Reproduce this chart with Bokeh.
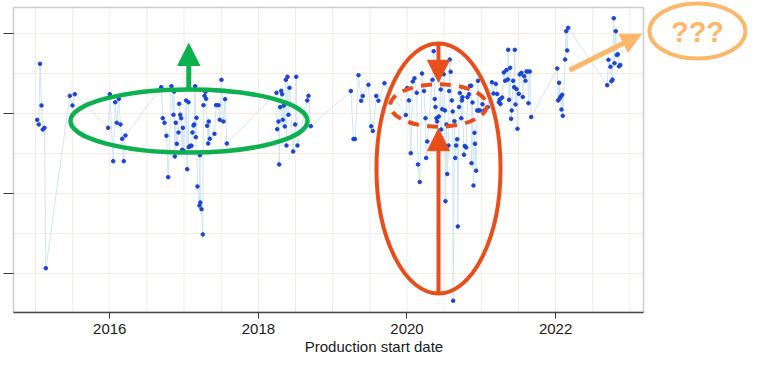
from bokeh.plotting import figure
from bokeh.models import Range1d, FixedTicker, Arrow, NormalHead, Label, BoxAnnotation
from bokeh.embed import file_html
from bokeh.resources import INLINE

# ---------------- data (decimal year, relative value) ----------------
years = [
    2015.023, 2015.044, 2015.061, 2015.081, 2015.098, 2015.121, 2015.139,
    2015.462, 2015.498, 2015.529,
    2015.978, 2016.000, 2016.046, 2016.073, 2016.094, 2016.121, 2016.144, 2016.167, 2016.188, 2016.211,
    2016.692, 2016.713, 2016.736, 2016.763, 2016.786, 2016.830, 2016.857, 2016.867, 2016.875, 2016.888,
    2016.902, 2016.925, 2016.934, 2016.948, 2016.961, 2016.974, 2016.983, 2016.996, 2017.028, 2017.042,
    2017.059, 2017.063, 2017.073, 2017.086, 2017.100, 2017.113, 2017.127, 2017.136, 2017.149, 2017.157,
    2017.167, 2017.180, 2017.207, 2017.213, 2017.219, 2017.234, 2017.252, 2017.261, 2017.275, 2017.288,
    2017.297, 2017.311, 2017.324, 2017.332, 2017.346, 2017.409, 2017.432, 2017.463, 2017.480, 2017.503,
    2017.530, 2017.553, 2017.575,
    2018.244, 2018.253, 2018.271, 2018.280, 2018.293, 2018.307, 2018.320, 2018.328, 2018.342, 2018.355,
    2018.369, 2018.378, 2018.392, 2018.405, 2018.419, 2018.468, 2018.495, 2018.509, 2018.526, 2018.657,
    2018.674, 2018.705,
    2019.244, 2019.280, 2019.300, 2019.347, 2019.384, 2019.405, 2019.482, 2019.518, 2019.540, 2019.587,
    2019.616, 2019.697,
    2019.984, 2020.003, 2020.027, 2020.051, 2020.078, 2020.101, 2020.131, 2020.148, 2020.172, 2020.202,
    2020.229, 2020.249, 2020.258, 2020.273, 2020.343, 2020.359, 2020.374, 2020.384, 2020.397, 2020.406,
    2020.428, 2020.454, 2020.460, 2020.475, 2020.494, 2020.511, 2020.518, 2020.532, 2020.542, 2020.559,
    2020.568, 2020.576, 2020.588, 2020.603, 2020.615, 2020.622, 2020.639, 2020.650, 2020.662, 2020.676,
    2020.684, 2020.700, 2020.711, 2020.731, 2020.740, 2020.747, 2020.767, 2020.777, 2020.798, 2020.814,
    2020.834, 2020.848, 2020.864, 2020.868, 2020.882, 2020.895, 2020.908, 2020.915, 2020.931, 2020.945,
    2020.956, 2020.966, 2020.980, 2021.016, 2021.039, 2021.087, 2021.144, 2021.164, 2021.195, 2021.214,
    2021.236, 2021.249, 2021.258, 2021.281, 2021.303, 2021.322, 2021.339, 2021.357, 2021.362, 2021.375,
    2021.389, 2021.402, 2021.410, 2021.429, 2021.443, 2021.451, 2021.460, 2021.474, 2021.487, 2021.505,
    2021.518, 2021.541, 2021.558, 2021.577, 2021.595, 2021.608, 2021.626, 2021.635, 2021.653, 2021.672,
    2022.022, 2022.035, 2022.048, 2022.057, 2022.070, 2022.079, 2022.089, 2022.097, 2022.129, 2022.143,
    2022.156, 2022.170,
    2022.695, 2022.712, 2022.739, 2022.752, 2022.766, 2022.783, 2022.793, 2022.810, 2022.824, 2022.837,
    2022.853, 2022.870,
]
values = [
    2.921, 2.863, 3.621, 3.100, 2.800, 2.821, 1.066,
    3.221, 3.100, 3.241,
    2.821, 3.241, 2.404, 3.141, 2.884, 3.181, 2.863, 2.684, 2.404, 2.725,
    3.329, 2.941, 2.884, 2.721, 2.204, 3.341, 2.984, 3.275, 2.463, 2.884,
    2.621, 2.763, 3.121, 2.984, 2.941, 2.546, 2.821, 2.534, 3.163, 2.304,
    3.141, 2.579, 2.588, 2.596, 2.596, 2.763, 2.850, 2.863, 3.341, 2.704,
    2.946, 2.088, 1.850, 2.479, 1.888, 1.804, 1.488, 3.104, 3.221, 3.271,
    3.184, 2.846, 2.625, 2.900, 2.684, 2.746, 3.104, 3.104, 2.921, 3.421,
    2.900, 3.179, 2.625,
    3.259, 2.804, 2.900, 2.363, 3.079, 3.284, 3.241, 2.921, 3.100, 2.838,
    3.421, 2.600, 3.459, 2.984, 3.321, 2.525, 2.863, 3.459, 2.600, 3.163,
    3.221, 2.841,
    3.281, 2.681, 2.681, 3.479, 3.159, 3.219, 3.359, 2.840, 2.781, 3.219,
    3.160, 3.379,
    2.981, 3.319, 3.163, 2.504, 3.400, 3.440, 3.259, 2.363, 2.144, 3.500,
    3.281, 2.941, 2.444, 2.650, 3.421, 3.779, 3.181, 3.081, 2.941, 2.900,
    2.963, 3.300, 2.800, 3.054, 3.490, 3.038, 1.904, 2.863, 2.244, 2.600,
    3.281, 3.675, 3.521, 3.163, 3.025, 0.659, 2.904, 2.444, 2.600, 2.678,
    1.588, 3.081, 3.256, 2.941, 3.163, 3.204, 2.484, 2.594, 2.575, 3.204,
    3.241, 3.346, 3.346, 2.379, 3.138, 2.100, 2.759, 2.621, 2.285, 3.038,
    3.409, 3.038, 3.038, 3.116, 3.038, 3.079, 3.391, 3.250, 3.371, 3.244,
    3.141, 3.175, 3.119, 3.200, 3.513, 3.409, 3.544, 3.425, 3.796, 3.171,
    3.571, 2.934, 3.038, 3.409, 3.329, 3.796, 3.113, 3.306, 2.809, 3.246,
    3.488, 3.509, 3.206, 3.466, 3.409, 3.525, 3.525, 3.129, 3.525, 2.956,
    3.563, 3.163, 3.384, 3.191, 3.213, 3.050, 3.234, 2.971, 3.675, 4.029,
    3.788, 4.071,
    3.354, 3.671, 3.584, 3.403, 3.423, 4.191, 3.628, 4.029, 3.731, 3.740,
    3.590, 3.606,
]

x_ticks = [2016, 2018, 2020, 2022]
x_labels = ["2016", "2018", "2020", "2022"]
y_ticks = [1, 2, 3, 4]
x_grid = [2015 + 0.5 * i for i in range(17)]
y_grid = [1.0 + 0.5 * i for i in range(7)]

# axes box extents and visible window
X0, X1 = 2014.704, 2023.183
Y0, YB = 0.5125, 4.325
XV0, XV1 = 2014.529, 2024.583
YV1 = 4.4125
TICK_X = 2014.57

FONT = "Liberation Sans"
GREEN = "#0db04e"
RED = "#e84e1a"
ORANGE = "#fdb76a"
GRID = "#f6ebe3"

p = figure(width=747, height=358, output_backend="svg", toolbar_location=None,
           x_range=Range1d(XV0, XV1), y_range=Range1d(Y0, YV1),
           min_border_left=0, min_border_right=0, min_border_top=0, min_border_bottom=46)
p.outline_line_color = None
p.background_fill_color = "white"
p.border_fill_color = "white"
p.xgrid.visible = False
p.ygrid.visible = False
p.yaxis.visible = False

# grid inside the axes box
p.segment(x0=[X0] * len(y_grid), x1=[X1] * len(y_grid), y0=y_grid, y1=y_grid,
          line_color=GRID, line_width=1)
p.segment(x0=x_grid, x1=x_grid, y0=[Y0] * len(x_grid), y1=[YB] * len(x_grid),
          line_color=GRID, line_width=1)

# y tick marks (no labels in the reference)
p.segment(x0=[TICK_X] * len(y_ticks), x1=[X0] * len(y_ticks), y0=y_ticks, y1=y_ticks,
          line_color="#333333", line_width=1)

# x axis
xa = p.xaxis[0]
xa.ticker = FixedTicker(ticks=x_ticks)
xa.major_label_overrides = {t: l for t, l in zip(x_ticks, x_labels)}
xa.bounds = (X0, X1)
xa.axis_line_color = "#444444"
xa.axis_line_width = 1.5
xa.major_tick_out = 6
xa.major_tick_in = 0
xa.major_tick_line_color = "#333333"
xa.minor_tick_line_color = None
xa.major_label_standoff = 5
xa.major_label_text_font = FONT
xa.major_label_text_font_size = "15px"
xa.major_label_text_color = "#1a1a1a"
xa.axis_label = "Production start date"
xa.axis_label_text_font = FONT
xa.axis_label_text_font_size = "15px"
xa.axis_label_text_font_style = "normal"
xa.axis_label_text_color = "#1a1a1a"
xa.axis_label_standoff = 1

# axes box
p.add_layout(BoxAnnotation(left=X0, right=X1, bottom=Y0, top=YB,
                           fill_color=None, line_color="#555555", line_width=1.5))

# series
p.line(years, values, line_color="#cfe5f4", line_width=1)
p.scatter(years, values, size=3.6, fill_color="#1a44d6", line_color="#1a44d6")

# --- annotations ---
# green ellipse + arrow
p.ellipse(x=[2017.066], y=[2.906], width=[3.19], height=[0.79],
          fill_color=None, line_color=GREEN, line_width=4.5)
p.add_layout(Arrow(end=NormalHead(size=22, fill_color=GREEN, line_color=GREEN),
                   x_start=2017.063, y_start=3.30, x_end=2017.063, y_end=3.875,
                   line_color=GREEN, line_width=5))

# red ellipse, dashed ellipse, arrows
p.ellipse(x=[2020.424], y=[2.3125], width=[1.67], height=[3.125],
          fill_color=None, line_color=RED, line_width=4)
p.ellipse(x=[2020.424], y=[3.10], width=[1.30], height=[0.53],
          fill_color=None, line_color=RED, line_width=4, line_dash="11 8")
p.add_layout(Arrow(end=NormalHead(size=22, fill_color=RED, line_color=RED),
                   x_start=2020.424, y_start=0.77, x_end=2020.424, y_end=2.81,
                   line_color=RED, line_width=4))
p.add_layout(Arrow(end=NormalHead(size=22, fill_color=RED, line_color=RED),
                   x_start=2020.424, y_start=3.87, x_end=2020.424, y_end=3.39,
                   line_color=RED, line_width=4))

# orange question ellipse + arrow
p.ellipse(x=[2023.910], y=[4.031], width=[1.292], height=[0.69],
          fill_color=None, line_color=ORANGE, line_width=4)
p.add_layout(Label(x=2023.910, y=4.025, text="???", text_font=FONT, text_font_size="29px",
                   text_font_style="bold", text_color=ORANGE,
                   text_align="center", text_baseline="middle"))
p.add_layout(Arrow(end=NormalHead(size=20, fill_color=ORANGE, line_color=ORANGE),
                   x_start=2022.187, y_start=3.54, x_end=2023.156, y_end=3.99,
                   line_color=ORANGE, line_width=5))

open("out.html", "w").write(file_html(p, INLINE))
